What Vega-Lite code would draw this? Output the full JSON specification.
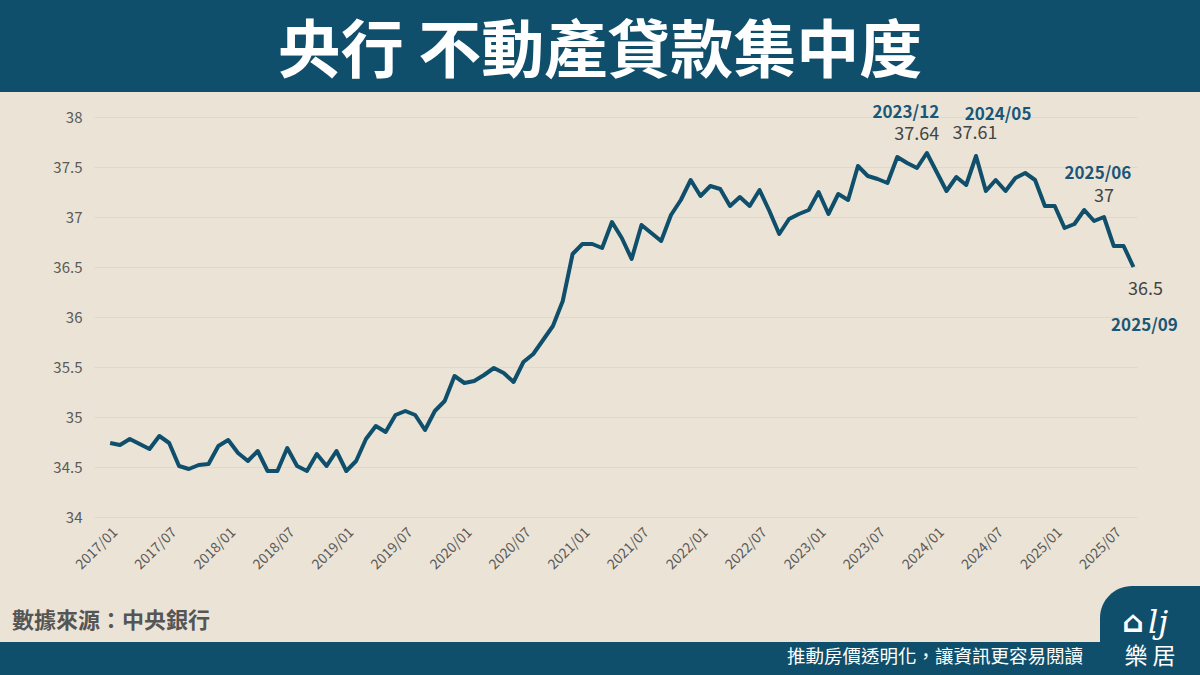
{
  "$schema": "https://vega.github.io/schema/vega-lite/v6.json",
  "background": "#ebe4d6",
  "padding": 0,
  "spacing": 0,
  "bounds": "full",
  "config": {
    "font": "Noto Sans CJK TC",
    "view": {"stroke": null},
    "concat": {"spacing": 0}
  },
  "datasets": {
    "rate": [
      {"month": "2017/01", "value": 34.74}, {"month": "2017/02", "value": 34.72}, {"month": "2017/03", "value": 34.78},
      {"month": "2017/04", "value": 34.73}, {"month": "2017/05", "value": 34.68}, {"month": "2017/06", "value": 34.81},
      {"month": "2017/07", "value": 34.74}, {"month": "2017/08", "value": 34.51}, {"month": "2017/09", "value": 34.48},
      {"month": "2017/10", "value": 34.52}, {"month": "2017/11", "value": 34.53}, {"month": "2017/12", "value": 34.71},
      {"month": "2018/01", "value": 34.77}, {"month": "2018/02", "value": 34.64}, {"month": "2018/03", "value": 34.56},
      {"month": "2018/04", "value": 34.66}, {"month": "2018/05", "value": 34.46}, {"month": "2018/06", "value": 34.46},
      {"month": "2018/07", "value": 34.69}, {"month": "2018/08", "value": 34.51}, {"month": "2018/09", "value": 34.46},
      {"month": "2018/10", "value": 34.63}, {"month": "2018/11", "value": 34.51}, {"month": "2018/12", "value": 34.66},
      {"month": "2019/01", "value": 34.46}, {"month": "2019/02", "value": 34.56}, {"month": "2019/03", "value": 34.78},
      {"month": "2019/04", "value": 34.91}, {"month": "2019/05", "value": 34.85}, {"month": "2019/06", "value": 35.02},
      {"month": "2019/07", "value": 35.06}, {"month": "2019/08", "value": 35.02}, {"month": "2019/09", "value": 34.87},
      {"month": "2019/10", "value": 35.06}, {"month": "2019/11", "value": 35.16}, {"month": "2019/12", "value": 35.41},
      {"month": "2020/01", "value": 35.34}, {"month": "2020/02", "value": 35.36}, {"month": "2020/03", "value": 35.42},
      {"month": "2020/04", "value": 35.49}, {"month": "2020/05", "value": 35.44}, {"month": "2020/06", "value": 35.35},
      {"month": "2020/07", "value": 35.55}, {"month": "2020/08", "value": 35.63}, {"month": "2020/09", "value": 35.77},
      {"month": "2020/10", "value": 35.91}, {"month": "2020/11", "value": 36.16}, {"month": "2020/12", "value": 36.63},
      {"month": "2021/01", "value": 36.73}, {"month": "2021/02", "value": 36.73}, {"month": "2021/03", "value": 36.69},
      {"month": "2021/04", "value": 36.95}, {"month": "2021/05", "value": 36.79}, {"month": "2021/06", "value": 36.58},
      {"month": "2021/07", "value": 36.92}, {"month": "2021/08", "value": 36.84}, {"month": "2021/09", "value": 36.76},
      {"month": "2021/10", "value": 37.02}, {"month": "2021/11", "value": 37.17}, {"month": "2021/12", "value": 37.37},
      {"month": "2022/01", "value": 37.21}, {"month": "2022/02", "value": 37.31}, {"month": "2022/03", "value": 37.28},
      {"month": "2022/04", "value": 37.11}, {"month": "2022/05", "value": 37.20}, {"month": "2022/06", "value": 37.11},
      {"month": "2022/07", "value": 37.27}, {"month": "2022/08", "value": 37.06}, {"month": "2022/09", "value": 36.83},
      {"month": "2022/10", "value": 36.98}, {"month": "2022/11", "value": 37.03}, {"month": "2022/12", "value": 37.07},
      {"month": "2023/01", "value": 37.25}, {"month": "2023/02", "value": 37.03}, {"month": "2023/03", "value": 37.23},
      {"month": "2023/04", "value": 37.17}, {"month": "2023/05", "value": 37.51}, {"month": "2023/06", "value": 37.41},
      {"month": "2023/07", "value": 37.38}, {"month": "2023/08", "value": 37.34}, {"month": "2023/09", "value": 37.60},
      {"month": "2023/10", "value": 37.54}, {"month": "2023/11", "value": 37.49}, {"month": "2023/12", "value": 37.64},
      {"month": "2024/01", "value": 37.45}, {"month": "2024/02", "value": 37.26}, {"month": "2024/03", "value": 37.40},
      {"month": "2024/04", "value": 37.32}, {"month": "2024/05", "value": 37.61}, {"month": "2024/06", "value": 37.26},
      {"month": "2024/07", "value": 37.37}, {"month": "2024/08", "value": 37.26}, {"month": "2024/09", "value": 37.39},
      {"month": "2024/10", "value": 37.44}, {"month": "2024/11", "value": 37.37}, {"month": "2024/12", "value": 37.11},
      {"month": "2025/01", "value": 37.11}, {"month": "2025/02", "value": 36.89}, {"month": "2025/03", "value": 36.93},
      {"month": "2025/04", "value": 37.07}, {"month": "2025/05", "value": 36.96}, {"month": "2025/06", "value": 37.00},
      {"month": "2025/07", "value": 36.71}, {"month": "2025/08", "value": 36.71}, {"month": "2025/09", "value": 36.50}
    ]
  },
  "vconcat": [
    {
      "width": 1200,
      "height": 92,
      "view": {"fill": "#104f6b", "stroke": null},
      "data": {"values": [{"t": "央行 不動產貸款集中度"}]},
      "mark": {"type": "text", "color": "white", "fontSize": 63, "fontWeight": "bold", "align": "center", "baseline": "middle", "dy": 7},
      "encoding": {"text": {"field": "t"}}
    },
    {
      "width": 1200,
      "height": 425,
      "data": {"name": "rate"},
      "encoding": {
        "x": {
          "field": "month",
          "type": "ordinal",
          "scale": {"type": "point", "range": [94, 1137], "padding": 1.05, "align": 0.82},
          "axis": {
            "title": null,
            "values": ["2017/01", "2017/07", "2018/01", "2018/07", "2019/01", "2019/07", "2020/01", "2020/07", "2021/01", "2021/07", "2022/01", "2022/07", "2023/01", "2023/07", "2024/01", "2024/07", "2025/01", "2025/07"],
            "labelAngle": -45,
            "labelFontSize": 14,
            "labelColor": "#5a5a5a",
            "labelPadding": 8,
            "ticks": false,
            "domain": false,
            "grid": false,
            "minExtent": 69
          }
        },
        "y": {
          "field": "value",
          "type": "quantitative",
          "scale": {"domain": [34, 38.25], "nice": false, "zero": false},
          "axis": {
            "title": null,
            "offset": -94,
            "values": [34, 34.5, 35, 35.5, 36, 36.5, 37, 37.5, 38],
            "format": "~g",
            "labelFontSize": 15,
            "labelColor": "#5a5a5a",
            "labelPadding": 12,
            "ticks": false,
            "domain": false,
            "gridColor": "#d9d9dd",
            "gridWidth": 1
          }
        }
      },
      "layer": [
        {"mark": {"type": "line", "color": "#0f4f6c", "strokeWidth": 4, "strokeJoin": "round"}},
        {
          "transform": [{"filter": "datum.month == '2023/12'"}],
          "mark": {"type": "text", "color": "#1a5677", "fontSize": 17, "fontWeight": "bold", "dx": -21, "dy": -40},
          "encoding": {"text": {"field": "month"}}
        },
        {
          "transform": [{"filter": "datum.month == '2023/12'"}],
          "mark": {"type": "text", "color": "#444444", "fontSize": 18, "dx": -10, "dy": -18},
          "encoding": {"text": {"field": "value", "type": "quantitative", "format": "~g"}}
        },
        {
          "transform": [{"filter": "datum.month == '2024/05'"}],
          "mark": {"type": "text", "color": "#1a5677", "fontSize": 17, "fontWeight": "bold", "dx": 22, "dy": -41},
          "encoding": {"text": {"field": "month"}}
        },
        {
          "transform": [{"filter": "datum.month == '2024/05'"}],
          "mark": {"type": "text", "color": "#444444", "fontSize": 18, "dx": -1, "dy": -22},
          "encoding": {"text": {"field": "value", "type": "quantitative", "format": "~g"}}
        },
        {
          "transform": [{"filter": "datum.month == '2025/06'"}],
          "mark": {"type": "text", "color": "#1a5677", "fontSize": 17, "fontWeight": "bold", "dx": -6, "dy": -43},
          "encoding": {"text": {"field": "month"}}
        },
        {
          "transform": [{"filter": "datum.month == '2025/06'"}],
          "mark": {"type": "text", "color": "#444444", "fontSize": 18, "dx": 0, "dy": -20},
          "encoding": {"text": {"field": "value", "type": "quantitative", "format": "~g"}}
        },
        {
          "transform": [{"filter": "datum.month == '2025/09'"}],
          "mark": {"type": "text", "color": "#1a5677", "fontSize": 17, "fontWeight": "bold", "dx": 11, "dy": 59},
          "encoding": {"text": {"field": "month"}}
        },
        {
          "transform": [{"filter": "datum.month == '2025/09'"}],
          "mark": {"type": "text", "color": "#444444", "fontSize": 18, "dx": 12, "dy": 23},
          "encoding": {"text": {"field": "value", "type": "quantitative", "format": "~g"}}
        }
      ]
    },
    {
      "hconcat": [
        {
          "vconcat": [
            {
              "width": 1100,
              "height": 56,
              "data": {"values": [{"t": "數據來源：中央銀行"}]},
              "mark": {"type": "text", "color": "#555555", "fontSize": 22, "fontWeight": "bold", "align": "left", "baseline": "middle", "dx": -538, "dy": 7},
              "encoding": {"text": {"field": "t"}}
            },
            {
              "width": 1100,
              "height": 33,
              "view": {"fill": "#104f6b", "stroke": null},
              "data": {"values": [{"t": "推動房價透明化，讓資訊更容易閱讀"}]},
              "mark": {"type": "text", "color": "white", "fontSize": 18.5, "align": "right", "baseline": "middle", "dx": 533, "dy": -2},
              "encoding": {"text": {"field": "t"}}
            }
          ]
        },
        {
          "width": 100,
          "height": 89,
          "data": {"values": [{"logo": "樂 居", "mark1": "⌂", "mark2": "lj"}]},
          "layer": [
            {"mark": {"type": "rect", "color": "#104f6b", "cornerRadiusTopLeft": 32}},
            {
              "mark": {"type": "text", "color": "white", "fontSize": 23, "align": "center", "baseline": "middle", "dy": 26},
              "encoding": {"text": {"field": "logo"}}
            },
            {
              "mark": {"type": "text", "color": "white", "font": "DejaVu Sans", "fontSize": 30, "fontWeight": "bold", "align": "center", "baseline": "middle", "dx": -17, "dy": -8},
              "encoding": {"text": {"field": "mark1"}}
            },
            {
              "mark": {"type": "text", "color": "white", "font": "DejaVu Serif", "fontStyle": "italic", "fontSize": 32, "align": "center", "baseline": "middle", "dx": 8, "dy": -8},
              "encoding": {"text": {"field": "mark2"}}
            }
          ]
        }
      ]
    }
  ]
}
